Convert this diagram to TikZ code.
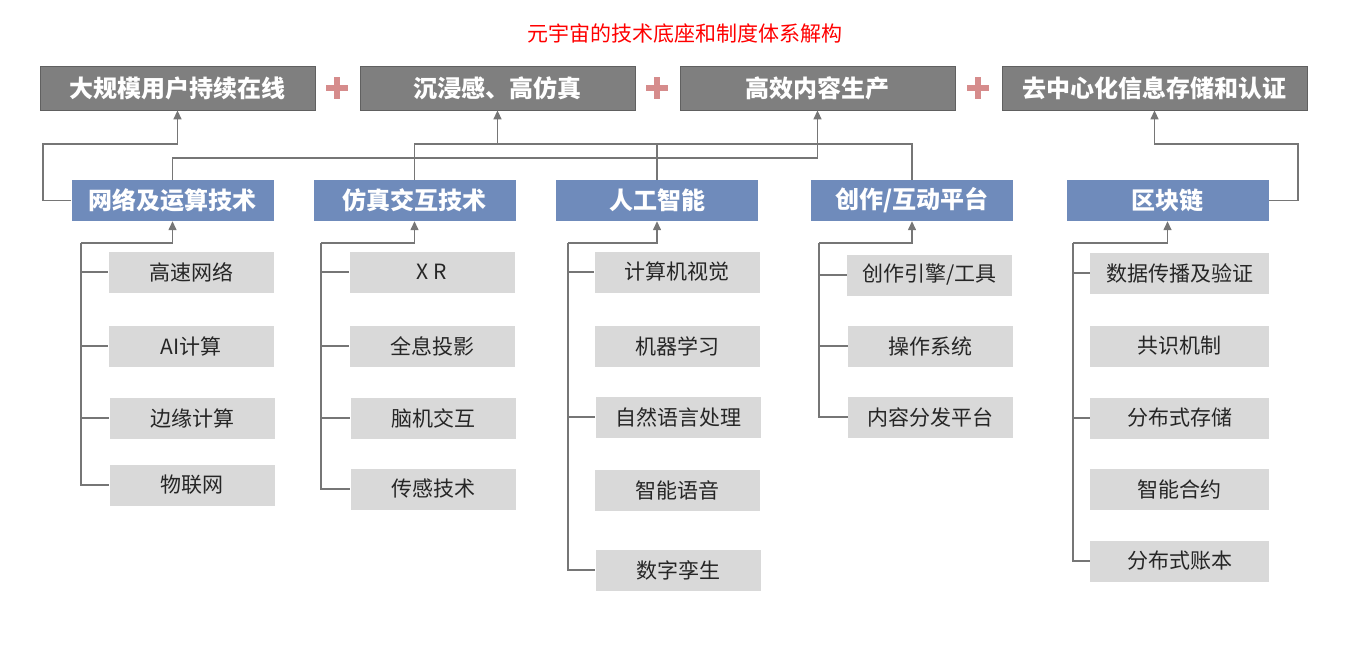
\documentclass[tikz,border=0pt]{standalone}
\usepackage{fontspec}
\setmainfont{Noto Sans CJK SC}
\usetikzlibrary{arrows.meta}

\definecolor{goalgray}{RGB}{127,127,127}
\definecolor{goalline}{RGB}{96,96,96}
\definecolor{techblue}{RGB}{111,139,187}
\definecolor{itemgray}{RGB}{217,217,217}
\definecolor{itemtext}{RGB}{38,38,38}
\definecolor{linkgray}{RGB}{118,118,118}
\definecolor{pluspink}{RGB}{214,140,140}

\tikzset{
  goalbox/.style={rectangle, draw=goalline, line width=0.8pt, fill=goalgray, minimum width=275pt, minimum height=44pt, text=white, font=\fontsize{24}{28}\selectfont\bfseries},
  techbox/.style={rectangle, fill=techblue, minimum width=202pt, minimum height=41pt, text=white, font=\fontsize{24}{28}\selectfont\bfseries},
  itembox/.style={rectangle, fill=itemgray, minimum width=165pt, minimum height=41pt, text=itemtext, font=\fontsize{21}{24}\selectfont},
  link/.style={draw=linkgray, line width=1.4pt},
  arr/.style={link, -{Triangle[length=9pt,width=8pt]}},
  plusmark/.style={draw=pluspink, line width=6pt},
}

\begin{document}
\begin{tikzpicture}[x=1pt, y=-1pt]
  \useasboundingbox (0,0) rectangle (1357,656);

  \node[text=red, font=\fontsize{21}{24}\selectfont] (title) at (685,33) {元宇宙的技术底座和制度体系解构};

  % goals
  \node[goalbox] (g1) at (177.5,88) {大规模用户持续在线};
  \node[goalbox] (g2) at (497.5,88) {沉浸感、高仿真};
  \node[goalbox] (g3) at (817.5,88) {高效内容生产};
  \node[goalbox, minimum width=305pt] (g4) at (1154.5,88) {去中心化信息存储和认证};
  \foreach \x in {337,657,978}
    \draw[plusmark] (\x-11,88) -- (\x+11,88) (\x,77) -- (\x,99);

  % technologies
  \node[techbox] (net) at (172.5,200.5) {网络及运算技术};
  \node[techbox] (sim) at (414.5,200.5) {仿真交互技术};
  \node[techbox] (ai) at (657,200.5) {人工智能};
  \node[techbox] (ugc) at (912,200.5) {创作/互动平台};
  \node[techbox] (chain) at (1167.5,200.5) {区块链};

  \coordinate (loopA) at (43,144);
  \coordinate (lowbus) at (817.5,158);
  \coordinate (highbus) at (497.5,144);
  \coordinate (loopE) at (1298,144);
  \draw[arr] (net.west) -| (loopA) -| (g1.south);
  \draw[arr] (net.north) |- (lowbus) -- (g3.south);
  \draw[link] (sim.north) |- (ugc.north |- highbus) -- (ugc.north);
  \draw[link] (ai.north) -- (ai.north |- highbus);
  \draw[arr] (highbus) -- (g2.south);
  \draw[arr] (chain.east) -| (loopE) -| (g4.south);

  % network column
  \node[itembox] (n1) at (191,272) {高速网络};
  \node[itembox] (n2) at (191,346) {AI计算};
  \node[itembox] (n3) at (192,418) {边缘计算};
  \node[itembox] (n4) at (192,485) {物联网};
  \coordinate (netroot) at (81,243);
  \draw[arr] (netroot) -| (net.south);
  \foreach \s in {n1,n2,n3,n4}
    \draw[link] (netroot) |- (\s.west);

  % simulation column
  \node[itembox] (s1) at (432,272) {X R};
  \node[itembox] (s2) at (432,346) {全息投影};
  \node[itembox] (s3) at (433,418) {脑机交互};
  \node[itembox] (s4) at (433,489) {传感技术};
  \coordinate (simroot) at (321,243);
  \draw[arr] (simroot) -| (sim.south);
  \foreach \s in {s1,s2,s3,s4}
    \draw[link] (simroot) |- (\s.west);

  % ai column
  \node[itembox] (a1) at (677,272) {计算机视觉};
  \node[itembox] (a2) at (677,346) {机器学习};
  \node[itembox] (a3) at (678,417) {自然语言处理};
  \node[itembox] (a4) at (677,490) {智能语音};
  \node[itembox] (a5) at (678,570) {数字孪生};
  \coordinate (airoot) at (568,243);
  \draw[arr] (airoot) -| (ai.south);
  \foreach \s in {a1,a3,a5}
    \draw[link] (airoot) |- (\s.west);

  % platform column
  \node[itembox] (p1) at (929.5,275) {创作引擎/工具};
  \node[itembox] (p2) at (930.5,346) {操作系统};
  \node[itembox] (p3) at (930.5,417) {内容分发平台};
  \coordinate (ugcroot) at (819,243);
  \draw[arr] (ugcroot) -| (ugc.south);
  \foreach \s in {p1,p2,p3}
    \draw[link] (ugcroot) |- (\s.west);

  % blockchain column
  \node[itembox, minimum width=179pt] (b1) at (1179.5,273) {数据传播及验证};
  \node[itembox, minimum width=179pt] (b2) at (1179.5,346) {共识机制};
  \node[itembox, minimum width=179pt] (b3) at (1179.5,418) {分布式存储};
  \node[itembox, minimum width=179pt] (b4) at (1179.5,489) {智能合约};
  \node[itembox, minimum width=179pt] (b5) at (1179.5,561) {分布式账本};
  \coordinate (chainroot) at (1073,243);
  \draw[arr] (chainroot) -| (chain.south);
  \foreach \s in {b1,b3,b5}
    \draw[link] (chainroot) |- (\s.west);
\end{tikzpicture}
\end{document}
